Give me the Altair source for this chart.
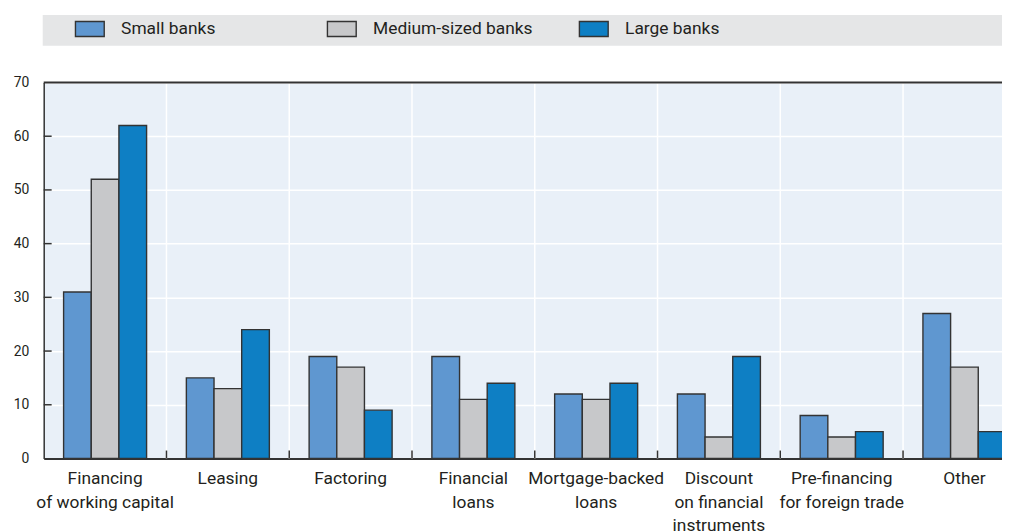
import altair as alt
import pandas as pd

categories = [
    "Financing\nof working capital",
    "Leasing",
    "Factoring",
    "Financial\nloans",
    "Mortgage-backed\nloans",
    "Discount\non financial\ninstruments",
    "Pre-financing\nfor foreign trade",
    "Other",
]
banks = ["Small banks", "Medium-sized banks", "Large banks"]
small = [31, 15, 19, 19, 12, 12, 8, 27]
medium = [52, 13, 17, 11, 11, 4, 4, 17]
large = [62, 24, 9, 14, 14, 19, 5, 5]
colors = ["#5f97d0", "#c7c8ca", "#0e7fc4"]
y_ticks = [0, 10, 20, 30, 40, 50, 60, 70]

rows = []
for i, c in enumerate(categories):
    for b, vals in zip(banks, [small, medium, large]):
        rows.append({"cat": c, "bank": b, "value": vals[i]})
df = pd.DataFrame(rows)

FONT = "Roboto"
TXT = "#231f20"
W, H = 966, 379
RANGE = 990

xscale = alt.Scale(domain=categories, range=[0, RANGE], paddingInner=0.324, paddingOuter=0.162)
gscale = alt.Scale(domain=categories, range=[0, RANGE], paddingInner=0, paddingOuter=0)

bars = alt.Chart(df).mark_bar(stroke="#333333", strokeWidth=1.4, opacity=1).encode(
    x=alt.X("cat:N", sort=categories, scale=xscale,
            axis=alt.Axis(title=None, labelExpr="split(datum.label, '\\n')", labelAngle=0,
                          ticks=False, tickSize=0, labelPadding=11.5, labelFont=FONT,
                          labelFontSize=17.5, labelColor=TXT, labelLineHeight=23.5,
                          bandPosition=0.5,
                          domainColor="#333333", domainWidth=2, grid=False, labelLimit=200)),
    xOffset=alt.XOffset("bank:N", sort=banks),
    y=alt.Y("value:Q", scale=alt.Scale(domain=[0, 70], nice=False),
            axis=alt.Axis(title=None, values=y_ticks, ticks=False, tickSize=0, labelPadding=15,
                          labelFont=FONT, labelFontSize=14, labelColor=TXT,
                          domainColor="#333333", domainWidth=1.5,
                          gridColor="white", gridWidth=1.5, gridOpacity=1)),
    color=alt.Color("bank:N", sort=banks, scale=alt.Scale(domain=banks, range=colors),
                    legend=alt.Legend(title=None, orient="none", legendX=31, legendY=-69.5,
                                      direction="horizontal", columns=3, gridAlign="all",
                                      columnPadding=44, symbolType="M-1,-0.52H1V0.52H-1Z",
                                      symbolSize=841, symbolStrokeColor="#333333",
                                      symbolStrokeWidth=1.4, symbolOpacity=1,
                                      labelOffset=16, labelFont=FONT, labelFontSize=17.5,
                                      labelColor=TXT, padding=0, labelLimit=300)),
)

grid_df = pd.DataFrame({"g": categories[1:]})
vgrid = alt.Chart(grid_df).mark_rule(color="white", strokeWidth=1.5).encode(
    x=alt.X("g:N", sort=categories, scale=gscale, bandPosition=0, axis=None),
)
xticks = alt.Chart(grid_df).mark_rule(color="#333333", strokeWidth=1.5).encode(
    x=alt.X("g:N", sort=categories, scale=gscale, bandPosition=0, axis=None),
    y=alt.value(H - 8), y2=alt.value(H),
)
ytick_df = pd.DataFrame({"v": y_ticks[1:-1]})
yticks = alt.Chart(ytick_df).mark_rule(color="#333333", strokeWidth=1.5).encode(
    y=alt.Y("v:Q"), x=alt.value(0), x2=alt.value(8),
)
top_df = pd.DataFrame({"v": [70]})
top = alt.Chart(top_df).mark_rule(color="#333333", strokeWidth=2).encode(y=alt.Y("v:Q"))
legend_bg = alt.Chart(top_df).mark_rect(color="#e5e6e7").encode(
    x=alt.value(-1), x2=alt.value(W + 20), y=alt.value(-68), y2=alt.value(-37),
)

chart = alt.layer(legend_bg, vgrid, xticks, bars, yticks, top).resolve_scale(
    x="independent"
).properties(
    width=W, height=H,
    autosize=alt.AutoSizeParams(type="none"),
    padding={"left": 36, "top": 73, "right": 0, "bottom": 72},
    background="white",
).configure_view(stroke=None, fill="#e9f0f8")

chart.save("out.html", embed_options={"renderer": "svg", "actions": False})
